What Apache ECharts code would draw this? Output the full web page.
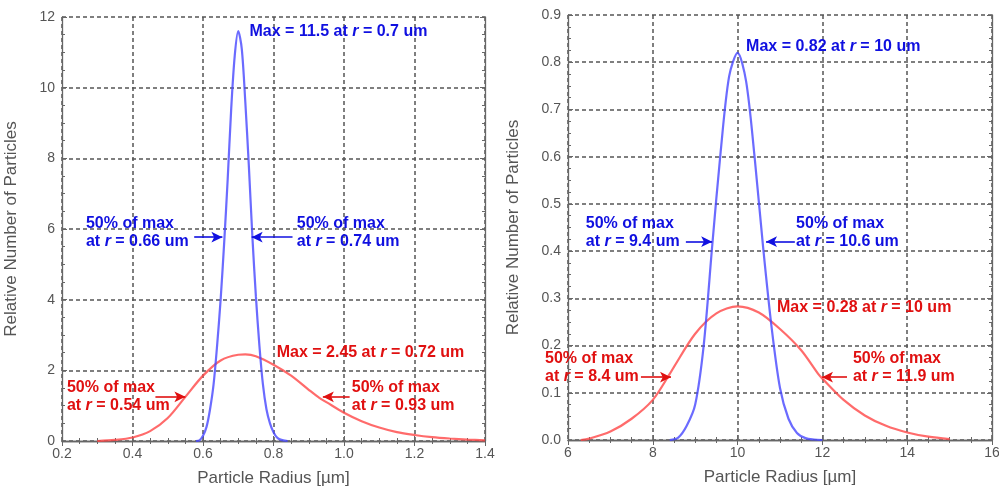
<!DOCTYPE html>
<html>
<head>
<meta charset="utf-8">
<script src="https://cdn.jsdelivr.net/npm/echarts@6/dist/echarts.min.js"></script>
<style>
  html, body { margin: 0; padding: 0; background: #fff; }
  #chart { width: 999px; height: 490px; }
</style>
</head>
<body>
<div id="chart"></div>
<script>
// left panel: small particles, radius in um
var leftBlueR = [0.58, 0.59, 0.60, 0.61, 0.62, 0.63, 0.64, 0.65, 0.66, 0.67, 0.68, 0.69, 0.70, 0.71, 0.72, 0.73, 0.74, 0.75, 0.76, 0.77, 0.78, 0.79, 0.80, 0.81, 0.82, 0.84]
var leftBlueN = [0, 0.02, 0.15, 0.4, 0.9, 1.6, 2.7, 4.0, 5.6, 7.4, 9.4, 10.9, 11.6, 11.1, 9.6, 7.8, 5.8, 4.1, 2.7, 1.6, 0.9, 0.5, 0.25, 0.1, 0.04, 0]
var leftRedR = [0.30, 0.35, 0.40, 0.45, 0.50, 0.55, 0.60, 0.65, 0.70, 0.72, 0.75, 0.80, 0.85, 0.90, 0.93, 0.95, 1.00, 1.05, 1.10, 1.15, 1.20, 1.25, 1.30, 1.35, 1.40]
var leftRedN = [0, 0.03, 0.10, 0.28, 0.65, 1.25, 1.85, 2.28, 2.44, 2.45, 2.40, 2.16, 1.85, 1.45, 1.22, 1.10, 0.80, 0.56, 0.38, 0.25, 0.17, 0.11, 0.07, 0.04, 0.02]

// right panel: large particles
var rightBlueR = [8.4, 8.6, 8.8, 9.0, 9.2, 9.4, 9.6, 9.8, 10.0, 10.2, 10.4, 10.6, 10.8, 11.0, 11.2, 11.4, 11.6, 11.8, 12.0]
var rightBlueN = [0, 0.005, 0.03, 0.075, 0.2, 0.41, 0.61, 0.77, 0.82, 0.76, 0.6, 0.41, 0.24, 0.11, 0.045, 0.015, 0.004, 0.001, 0]
var rightRedR = [6.3, 6.5, 7.0, 7.5, 8.0, 8.4, 8.5, 9.0, 9.5, 10.0, 10.5, 11.0, 11.5, 11.9, 12.0, 12.5, 13.0, 13.5, 14.0, 14.5, 15.0]
var rightRedN = [0, 0.003, 0.018, 0.045, 0.085, 0.14, 0.155, 0.225, 0.268, 0.283, 0.27, 0.235, 0.19, 0.14, 0.13, 0.085, 0.052, 0.03, 0.016, 0.007, 0.002]

var xName = 'Particle Radius [µm]'
var yName = 'Relative Number of Particles'

function pairs(xs, ys) {
  return xs.map(function(x, i) { return [x, ys[i]] })
}

var blueLine = 'rgba(70,70,255,0.8)'
var redLine = 'rgba(255,70,70,0.8)'
var blueText = '#1010e0'
var redText = '#e01010'
var font = 'Liberation Sans'

function note(x, y, text, color, dx) {
  return {
    coord: [x, y],
    symbol: 'circle',
    symbolSize: 0,
    label: {
      show: true,
      position: 'right',
      distance: 0,
      offset: [dx || 0, 0],
      formatter: text,
      color: color,
      fontWeight: 'bold',
      fontSize: 16,
      lineHeight: 18,
      fontFamily: font,
      align: 'left',
      verticalAlign: 'middle',
      rich: {
        i: { fontStyle: 'italic', fontWeight: 'bold', fontSize: 16, lineHeight: 18, color: color, fontFamily: font }
      }
    }
  }
}

function arrow(x1, x2, y) {
  return [{ coord: [x1, y] }, { coord: [x2, y] }]
}

function arrowStyle(color) {
  return {
    silent: true,
    symbol: ['none', 'arrow'],
    symbolSize: [8, 11],
    label: { show: false },
    lineStyle: { color: color, width: 1.6, type: 'solid' },
    animation: false
  }
}

var gridLine = { show: true, lineStyle: { color: '#555', width: 1.5, type: [4, 3] } }

function xAxes(grid, min, max, interval, fmt) {
  var base = {
    gridIndex: grid,
    type: 'value',
    min: min,
    max: max,
    interval: interval,
    axisLine: { show: true, lineStyle: { color: '#666', width: 1.3 } },
    axisTick: { show: true, inside: true, length: 5, lineStyle: { color: '#666' } },
    minorTick: { show: true, splitNumber: 4, length: 3, lineStyle: { color: '#666' } }
  }
  return [
    Object.assign({}, base, {
      position: 'bottom',
      name: xName,
      nameLocation: 'middle',
      nameGap: 29,
      nameTextStyle: { color: '#555', fontSize: 17, fontFamily: font },
      axisLabel: { color: '#555', fontSize: 14, fontFamily: font, margin: 6, formatter: fmt },
      splitLine: gridLine
    }),
    Object.assign({}, base, {
      position: 'top',
      axisLabel: { show: false },
      splitLine: { show: false }
    })
  ]
}

function yAxes(grid, min, max, interval, fmt, gap) {
  var base = {
    gridIndex: grid,
    type: 'value',
    min: min,
    max: max,
    interval: interval,
    axisLine: { show: true, lineStyle: { color: '#666', width: 1.3 } },
    axisTick: { show: true, inside: true, length: 5, lineStyle: { color: '#666' } },
    minorTick: { show: true, splitNumber: 4, length: 3, lineStyle: { color: '#666' } }
  }
  return [
    Object.assign({}, base, {
      position: 'left',
      name: yName,
      nameLocation: 'middle',
      nameGap: gap,
      nameTextStyle: { color: '#555', fontSize: 17, fontFamily: font },
      axisLabel: { color: '#555', fontSize: 14, fontFamily: font, margin: 7, formatter: fmt },
      splitLine: gridLine
    }),
    Object.assign({}, base, {
      position: 'right',
      axisLabel: { show: false },
      splitLine: { show: false }
    })
  ]
}

function curve(xi, yi, data, color, extra) {
  return Object.assign({
    type: 'line',
    xAxisIndex: xi,
    yAxisIndex: yi,
    data: data,
    smooth: 0.3,
    showSymbol: false,
    symbol: 'none',
    lineStyle: { color: color, width: 2.2 },
    animation: false
  }, extra || {})
}

var chart = echarts.init(document.getElementById('chart'))
chart.setOption({
  backgroundColor: '#fff',
  textStyle: { fontFamily: font },
  grid: [
    { left: 62, right: 514, top: 17, bottom: 49, outerBoundsMode: 'none' },
    { left: 568, right: 7, top: 15, bottom: 50, outerBoundsMode: 'none' }
  ],
  xAxis: xAxes(0, 0.2, 1.4, 0.2, function(v) { return v.toFixed(1) })
    .concat(xAxes(1, 6, 16, 2, function(v) { return String(v) })),
  yAxis: yAxes(0, 0, 12, 2, function(v) { return String(v) }, 42)
    .concat(yAxes(1, 0, 0.9, 0.1, function(v) { return v.toFixed(1) }, 46)),
  series: [
    curve(0, 0, pairs(leftRedR, leftRedN), redLine, {
      markPoint: {
        silent: true, animation: false,
        data: [
          note(0.809, 2.49, 'Max = 2.45 at {i|r} = 0.72 um', redText),
          note(0.214, 1.27, '50% of max\nat {i|r} = 0.54 um', redText),
          note(1.022, 1.27, '50% of max\nat {i|r} = 0.93 um', redText)
        ]
      },
      markLine: Object.assign(arrowStyle(redText), {
        data: [arrow(0.465, 0.55, 1.25), arrow(1.016, 0.94, 1.25)]
      })
    }),
    curve(0, 0, pairs(leftBlueR, leftBlueN), blueLine, {
      markPoint: {
        silent: true, animation: false,
        data: [
          note(0.732, 11.6, 'Max = 11.5 at {i|r} = 0.7 um', blueText),
          note(0.268, 5.89, '50% of max\nat {i|r} = 0.66 um', blueText),
          note(0.866, 5.89, '50% of max\nat {i|r} = 0.74 um', blueText)
        ]
      },
      markLine: Object.assign(arrowStyle(blueText), {
        data: [arrow(0.575, 0.655, 5.77), arrow(0.854, 0.738, 5.77)]
      })
    }),
    curve(2, 2, pairs(rightRedR, rightRedN), redLine, {
      markPoint: {
        silent: true, animation: false,
        data: [
          note(10.93, 0.28, 'Max = 0.28 at {i|r} = 10 um', redText),
          // this label starts left of the plot, so anchor at the axis and shift it
          note(6, 0.154, '50% of max\nat {i|r} = 8.4 um', redText, -23),
          note(12.72, 0.154, '50% of max\nat {i|r} = 11.9 um', redText)
        ]
      },
      markLine: Object.assign(arrowStyle(redText), {
        data: [arrow(7.72, 8.43, 0.133), arrow(12.58, 11.99, 0.133)]
      })
    }),
    curve(2, 2, pairs(rightBlueR, rightBlueN), blueLine, {
      markPoint: {
        silent: true, animation: false,
        data: [
          note(10.2, 0.833, 'Max = 0.82 at {i|r} = 10 um', blueText),
          note(6.42, 0.4386, '50% of max\nat {i|r} = 9.4 um', blueText),
          note(11.38, 0.4386, '50% of max\nat {i|r} = 10.6 um', blueText)
        ]
      },
      markLine: Object.assign(arrowStyle(blueText), {
        data: [arrow(8.78, 9.4, 0.42), arrow(11.35, 10.67, 0.42)]
      })
    })
  ]
})
</script>
</body>
</html>
